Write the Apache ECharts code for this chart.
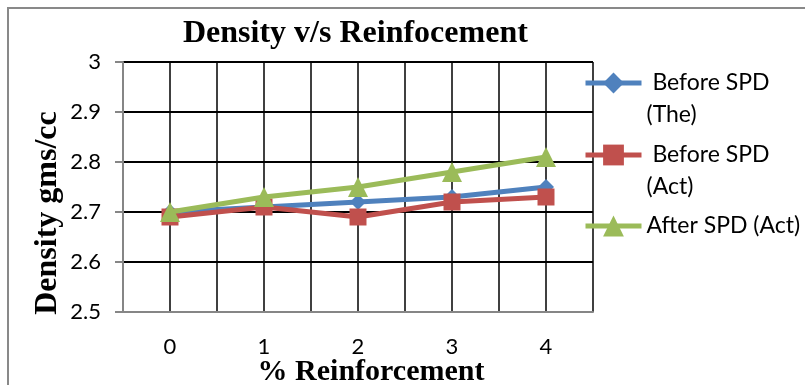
<!DOCTYPE html>
<html>
<head>
<meta charset="utf-8">
<script src="https://cdn.jsdelivr.net/npm/echarts@6/dist/echarts.min.js"></script>
<style>
html,body{margin:0;padding:0;background:#fff;}
#chart{width:805px;height:385px;}
</style>
</head>
<body>
<div id="chart"></div>
<script>
const titleText = 'Density v/s Reinfocement';
const xAxisName = '% Reinforcement';
const yAxisName = 'Density gms/cc';
const categories = ['0', '1', '2', '3', '4'];
const seriesNames = ['Before SPD (The)', 'Before SPD (Act)', 'After SPD (Act)'];
const legendLabels = [' \n Before SPD\n(The)', ' \n Before SPD\n(Act)', 'After SPD (Act)'];
const beforeThe = [2.70, 2.71, 2.72, 2.73, 2.75];
const beforeAct = [2.69, 2.71, 2.69, 2.72, 2.73];
const afterAct = [2.70, 2.73, 2.75, 2.78, 2.81];
const yMin = 2.5, yMax = 3, yStep = 0.1;

const colors = ['#4F81BD', '#C0504D', '#9BBB59'];
const symbols = ['diamond', 'rect', 'triangle'];
const symbolSizes = [16, 17, 20];
const values = [beforeThe, beforeAct, afterAct];

const chart = echarts.init(document.getElementById('chart'), null, {renderer: 'canvas'});

const toPairs = arr => categories.map((c, i) => [i, arr[i]]);

const legendTops = [35, 107, 210];
const legends = seriesNames.map((n, i) => ({
  data: [n],
  left: 583,
  top: legendTops[i],
  padding: 0,
  itemWidth: 56,
  itemHeight: 26,
  lineStyle: {width: 5},
  formatter: () => legendLabels[i],
  textStyle: {fontFamily: 'Lato', fontSize: 23, color: '#000', lineHeight: 32}
}));

chart.setOption({
  animation: false,
  backgroundColor: '#fff',
  title: {
    text: titleText,
    left: 183,
    top: 18,
    padding: 0,
    textStyle: {fontFamily: 'Liberation Serif', fontWeight: 'bold', fontSize: 32, color: '#000'}
  },
  legend: legends,
  grid: {left: 123, right: 212, top: 62, bottom: 73, containLabel: false, outerBoundsMode: 'none'},
  xAxis: {
    type: 'value',
    min: -0.5, max: categories.length - 0.5, interval: 0.5,
    name: xAxisName,
    nameLocation: 'middle',
    nameGap: 45,
    nameMoveOverlap: false,
    nameTextStyle: {fontFamily: 'Liberation Serif', fontWeight: 'bold', fontSize: 30, color: '#000', padding: [0, 0, 0, 26]},
    axisLine: {show: true, onZero: false, lineStyle: {color: '#868686', width: 2}},
    axisTick: {show: false},
    axisLabel: {
      margin: 24,
      fontFamily: 'Lato', fontSize: 22, color: '#000',
      formatter: v => (Math.abs(v - Math.round(v)) < 1e-6 && v >= 0 ? categories[Math.round(v)] : ''),
      showMinLabel: true, showMaxLabel: true
    },
    splitLine: {show: true, lineStyle: {color: '#000', width: 1.5}}
  },
  yAxis: {
    type: 'value',
    min: yMin, max: yMax, interval: yStep,
    name: yAxisName,
    nameLocation: 'middle',
    nameGap: 59,
    nameMoveOverlap: false,
    nameTextStyle: {fontFamily: 'Liberation Serif', fontWeight: 'bold', fontSize: 32, color: '#000', padding: [0, 52, 0, 0]},
    axisLine: {show: true, onZero: false, lineStyle: {color: '#868686', width: 2}},
    axisTick: {show: true, inside: false, length: 8, lineStyle: {color: '#868686', width: 2}},
    axisLabel: {
      margin: 22,
      fontFamily: 'Lato', fontSize: 22, color: '#000',
      formatter: v => String(Math.round(v * 10) / 10)
    },
    splitLine: {show: true, lineStyle: {color: '#000', width: 2}}
  },
  graphic: [{
    type: 'rect',
    shape: {x: 8, y: 8, width: 900, height: 500},
    style: {fill: 'none', stroke: '#898989', lineWidth: 2},
    silent: true, z: -1
  }],
  series: seriesNames.map((n, i) => ({
    name: n,
    type: 'line',
    data: toPairs(values[i]),
    symbol: symbols[i],
    symbolSize: symbolSizes[i],
    showAllSymbol: true,
    lineStyle: {color: colors[i], width: 5},
    itemStyle: {color: colors[i]},
    z: 3 + i
  }))
});
</script>
</body>
</html>
